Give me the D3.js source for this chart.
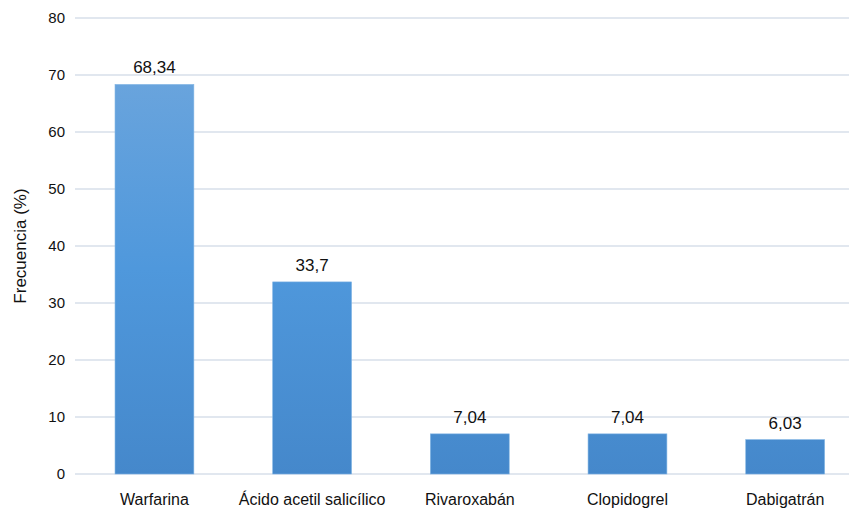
<!DOCTYPE html>
<html>
<head>
<meta charset="utf-8">
<script src="https://cdn.jsdelivr.net/npm/d3@7"></script>
<style>
  html, body { margin: 0; padding: 0; background: #fff; }
  svg { display: block; font-family: "Liberation Sans", Arial, Helvetica, sans-serif; }
</style>
</head>
<body>
<svg id="chart" width="849" height="509"></svg>
<script>
// Anticoagulantes / antiagregantes: frecuencia de uso (%)
const categories = ["Warfarina", "Ácido acetil salicílico", "Rivaroxabán", "Clopidogrel", "Dabigatrán"];
const values = [68.34, 33.7, 7.04, 7.04, 6.03];
const valueLabels = ["68,34", "33,7", "7,04", "7,04", "6,03"];
const yTicks = [0, 10, 20, 30, 40, 50, 60, 70, 80];
const yTitle = "Frecuencia (%)";

const svg = d3.select("#chart");
const plot = { left: 75.6, right: 864, top: 18, bottom: 474 };

const x = d3.scaleBand()
  .domain(categories)
  .range([plot.left, plot.right])
  .paddingInner(0.5)
  .paddingOuter(0.25);

const y = d3.scaleLinear().domain([0, 80]).range([plot.bottom, plot.top]);

// Bar fill: lighter at the top, deeper blue at the base
const defs = svg.append("defs");
const grad = defs.append("linearGradient")
  .attr("id", "barFill")
  .attr("gradientUnits", "userSpaceOnUse")
  .attr("x1", 0).attr("y1", y(80)).attr("x2", 0).attr("y2", y(0));
grad.append("stop").attr("offset", "0%").attr("stop-color", "#72a8dd");
grad.append("stop").attr("offset", "55%").attr("stop-color", "#4f98dc");
grad.append("stop").attr("offset", "100%").attr("stop-color", "#4588cb");

// Horizontal gridlines
svg.append("g")
  .selectAll("line")
  .data(yTicks)
  .join("line")
  .attr("x1", 75).attr("x2", 849)
  .attr("y1", d => y(d)).attr("y2", d => y(d))
  .attr("stroke", "#e1e7ef")
  .attr("stroke-width", 2);

// Y axis tick labels
const yAxis = d3.axisLeft(y).tickValues(yTicks).tickSize(0).tickPadding(0).tickFormat(d3.format("d"));
svg.append("g")
  .attr("transform", "translate(65,0)")
  .call(yAxis)
  .call(g => g.select(".domain").remove())
  .call(g => g.selectAll("text")
    .attr("font-size", 15)
    .attr("font-family", "Liberation Sans, Arial, sans-serif")
    .attr("fill", "#111"));

// Bars
svg.append("g")
  .selectAll("rect")
  .data(values)
  .join("rect")
  .attr("x", (d, i) => x(categories[i]))
  .attr("width", x.bandwidth())
  .attr("y", d => y(d))
  .attr("height", d => y(0) - y(d))
  .attr("fill", "url(#barFill)")
  .attr("stroke", "#7fb3e3")
  .attr("stroke-width", 0.6);

// Value labels above bars
svg.append("g")
  .selectAll("text")
  .data(values)
  .join("text")
  .attr("x", (d, i) => x(categories[i]) + x.bandwidth() / 2)
  .attr("y", d => y(d) - 11)
  .attr("text-anchor", "middle")
  .attr("font-size", 17)
  .attr("fill", "#111")
  .text((d, i) => valueLabels[i]);

// Category labels
const xAxis = d3.axisBottom(x).tickSize(0).tickPadding(0);
svg.append("g")
  .attr("transform", `translate(0,${plot.bottom + 20})`)
  .call(xAxis)
  .call(g => g.select(".domain").remove())
  .call(g => g.selectAll("text")
    .attr("font-size", 16)
    .attr("font-family", "Liberation Sans, Arial, sans-serif")
    .attr("fill", "#111"));

// Y axis title
svg.append("text")
  .attr("transform", `translate(26,${(plot.top + plot.bottom) / 2}) rotate(-90)`)
  .attr("text-anchor", "middle")
  .attr("font-size", 17)
  .attr("fill", "#111")
  .text(yTitle);
</script>
</body>
</html>
